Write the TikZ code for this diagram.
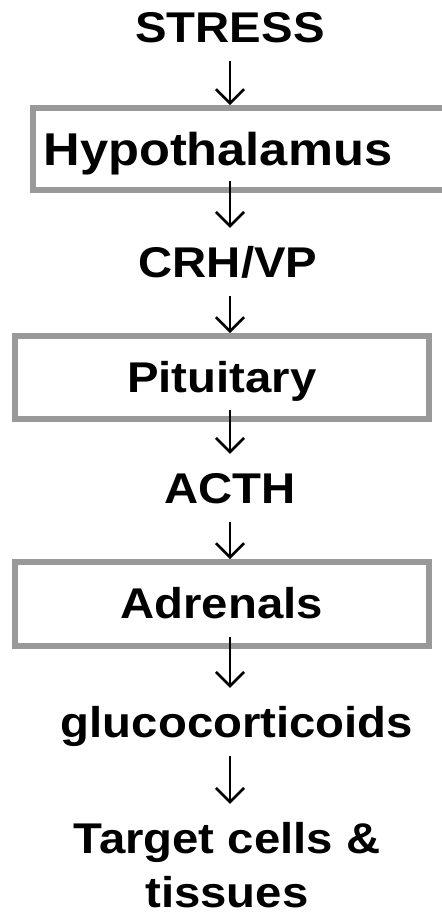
\documentclass[tikz,border=0pt]{standalone}
\usepackage{fontspec}
\setmainfont[FakeStretch=1.1]{Liberation Sans}
\usetikzlibrary{arrows.meta}
\definecolor{boxgray}{gray}{0.6}

\begin{document}
\begin{tikzpicture}[x=1pt,y=-1pt,
  every node/.style={font=\fontsize{43}{54}\selectfont\bfseries, text height=30pt, text depth=0pt},
  stage/.style={inner ysep=19pt, align=center, anchor=base},
  organ/.style={draw=boxgray, line width=6pt, inner sep=0pt},
  link/.style={line width=2.6pt, -{Straight Barb[length=14pt,width=28pt]}},
  out of box/.style={shorten <=-12pt}]

% frame
\useasboundingbox (0,0) rectangle (442,914);
\clip (0,0) rectangle (442,914);
\coordinate (axis) at (230,0);

% stages of the axis
\node[stage] (stress) at (230,42) {STRESS};
\node[organ, font=\fontsize{46}{54}\selectfont\bfseries, text height=33pt, text width=396pt, inner xsep=11pt, align=left, minimum height=82pt] (hypo) at (241.5,149) {Hypothalamus};
\node[stage] (crh) at (228,277) {CRH/VP};
\node[organ, minimum width=414.5pt, minimum height=83pt] (pit) at (221.75,377.5) {Pituitary};
\node[stage] (acth) at (230,503) {ACTH};
\node[organ, minimum width=414.5pt, minimum height=83.5pt] (adr) at (221.75,603.75) {Adrenals};
\node[stage] (gluco) at (237,737) {glucocorticoids};
\node[stage, text height=84pt] (target) at (227,907) {Target cells \&\\tissues};

% arrows down the axis
\draw[link] (axis |- stress.south) -- (axis |- hypo.north);
\draw[link, out of box] (axis |- hypo.south) -- (axis |- crh.north);
\draw[link] (axis |- crh.south) -- (axis |- pit.north);
\draw[link, out of box] (axis |- pit.south) -- (axis |- acth.north);
\draw[link] (axis |- acth.south) -- (axis |- adr.north);
\draw[link, out of box] (axis |- adr.south) -- (axis |- gluco.north);
\draw[link] (axis |- gluco.south) -- (axis |- target.north);

\end{tikzpicture}
\end{document}
